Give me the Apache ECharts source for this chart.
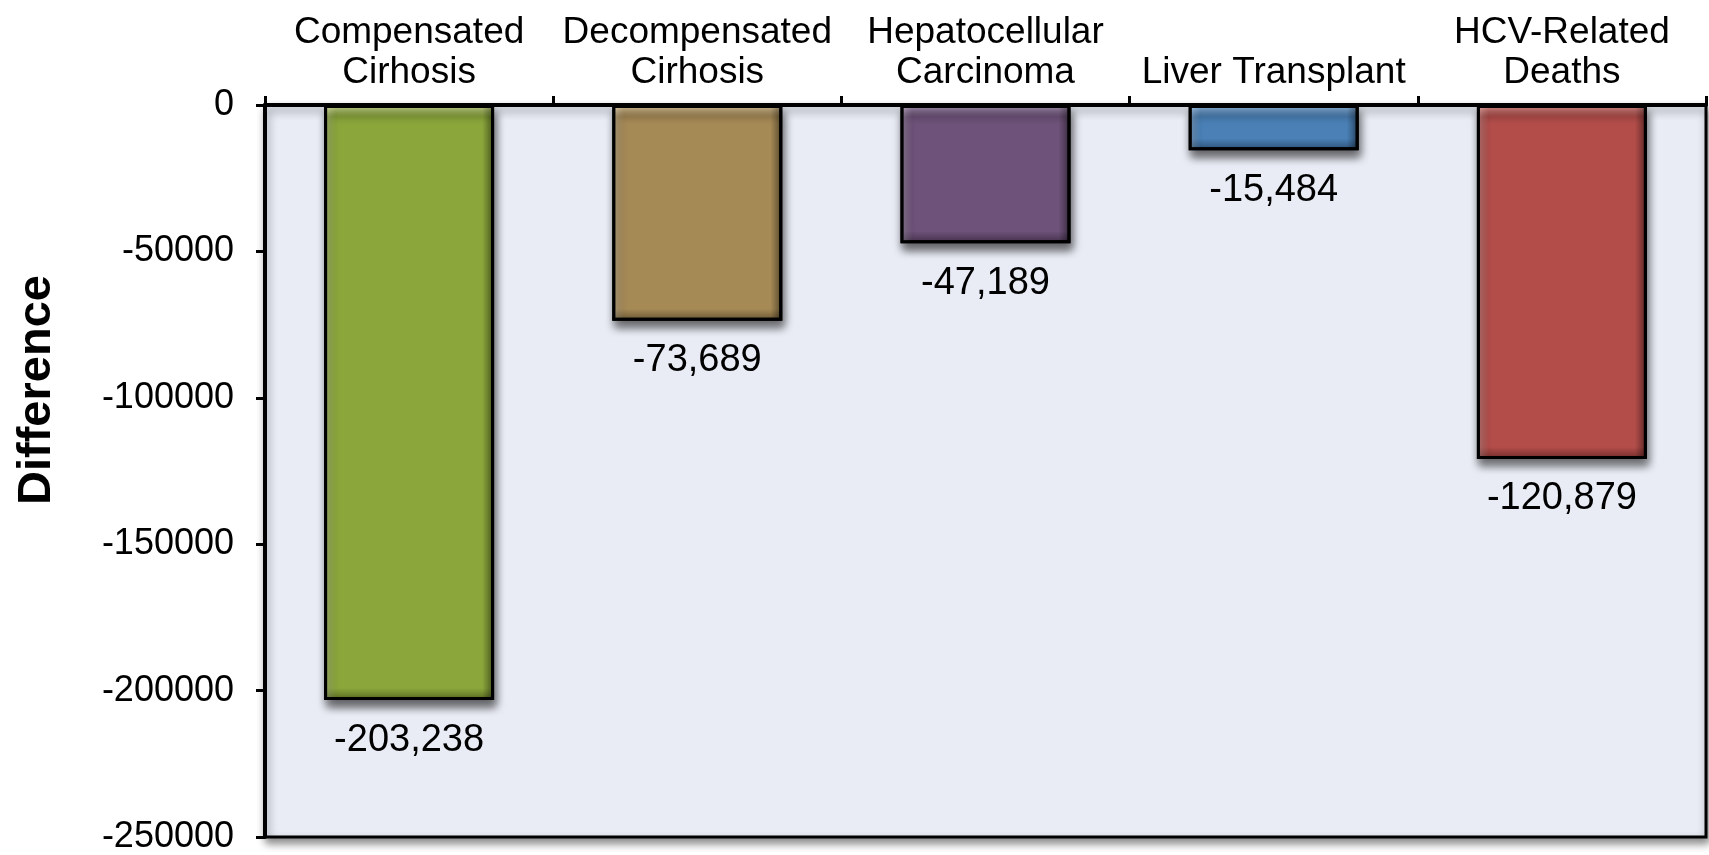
<!DOCTYPE html>
<html>
<head>
<meta charset="utf-8">
<script src="https://cdn.jsdelivr.net/npm/echarts@6/dist/echarts.min.js"></script>
<style>
html,body{margin:0;padding:0;background:#fff;}
#chart{width:1709px;height:855px;}
</style>
</head>
<body>
<div id="chart"></div>
<script>
var categories = ['Compensated\nCirhosis', 'Decompensated\nCirhosis', 'Hepatocellular\nCarcinoma', 'Liver Transplant', 'HCV-Related\nDeaths'];
var values = [-203238, -73689, -47189, -15484, -120879];
var yTicks = [0, -50000, -100000, -150000, -200000, -250000];
var axisName = 'Difference';

var baseColors = ['#8BA63B', '#A68A56', '#6E5279', '#4A80B6', '#B24D4A'];
var lightColors = ['#C8D791', '#D8C398', '#A893B3', '#93BAE0', '#DB918C'];
var darkColors = ['#56671F', '#695634', '#43304B', '#2C5075', '#732C2A'];

var FONT = '"Liberation Sans", Arial, Helvetica, sans-serif';
var yMin = Math.min.apply(null, yTicks);
var yMax = Math.max.apply(null, yTicks);
var plotH = 738;
var bevel = 12;

var chart = echarts.init(document.getElementById('chart'));

var baseData = values.map(function (v, i) {
  var h = Math.abs(v) / (yMax - yMin) * plotH;
  var f = Math.min(0.45, bevel / h);
  return {
    value: v,
    itemStyle: {
      color: new echarts.graphic.LinearGradient(0, 0, 0, 1, [
        { offset: 0, color: lightColors[i] },
        { offset: f, color: baseColors[i] },
        { offset: 1 - f, color: baseColors[i] },
        { offset: 1, color: darkColors[i] }
      ])
    }
  };
});

var overlayData = values.map(function (v) {
  return {
    value: v,
    itemStyle: {
      color: new echarts.graphic.LinearGradient(0, 0, 1, 0, [
        { offset: 0, color: 'rgba(255,255,255,0.25)' },
        { offset: 0.07, color: 'rgba(255,255,255,0)' },
        { offset: 0.93, color: 'rgba(0,0,0,0)' },
        { offset: 1, color: 'rgba(0,0,0,0.4)' }
      ])
    }
  };
});

chart.setOption({
  backgroundColor: '#ffffff',
  animation: false,
  grid: {
    left: 265, right: 3, top: 105, bottom: 12,
    show: true,
    backgroundColor: '#E9ECF5',
    borderColor: '#000',
    borderWidth: 3,
    shadowColor: 'rgba(0,0,0,0.45)',
    shadowBlur: 8,
    shadowOffsetX: 2,
    shadowOffsetY: 5
  },
  xAxis: {
    type: 'category',
    position: 'top',
    data: categories,
    axisLine: { show: true, lineStyle: { color: '#000', width: 4 } },
    axisTick: { show: true, length: 9, lineStyle: { color: '#000', width: 3 } },
    axisLabel: {
      interval: 0, color: '#000', fontSize: 37, lineHeight: 40,
      margin: 12, fontFamily: FONT
    },
    splitLine: { show: false }
  },
  yAxis: {
    type: 'value',
    min: yMin, max: yMax, interval: 50000,
    axisLine: { show: true, lineStyle: { color: '#000', width: 4 } },
    axisTick: { show: true, length: 9, lineStyle: { color: '#000', width: 3 } },
    axisLabel: {
      color: '#000', fontSize: 36, margin: 31, fontFamily: FONT,
      formatter: function (v) { return String(v); }
    },
    splitLine: { show: false }
  },
  graphic: [{
    type: 'text',
    x: 37,
    y: 390,
    rotation: Math.PI / 2,
    style: {
      text: axisName,
      font: 'bold 47px ' + FONT,
      fill: '#000',
      align: 'center',
      verticalAlign: 'middle'
    }
  }],
  series: [{
    type: 'bar',
    data: baseData,
    barWidth: 170,
    barGap: '-100%',
    itemStyle: {
      borderColor: '#000',
      borderWidth: 3,
      shadowColor: 'rgba(0,0,0,0.6)',
      shadowBlur: 9,
      shadowOffsetX: 2,
      shadowOffsetY: 7
    },
    label: {
      show: true,
      position: 'bottom',
      distance: 21,
      color: '#000',
      fontSize: 38,
      fontFamily: FONT,
      formatter: function (p) { return p.value.toLocaleString('en-US'); }
    }
  }, {
    type: 'bar',
    data: overlayData,
    barWidth: 170,
    barGap: '-100%',
    silent: true,
    itemStyle: { borderColor: '#000', borderWidth: 3 },
    label: { show: false }
  }]
});
</script>
</body>
</html>
